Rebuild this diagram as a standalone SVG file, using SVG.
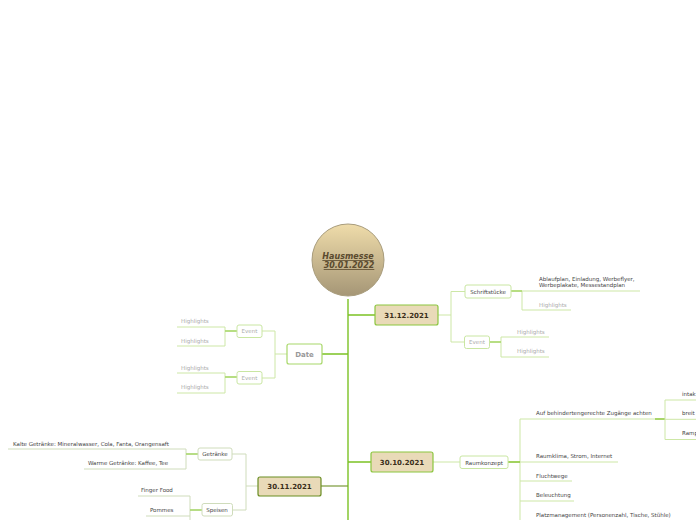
<svg xmlns="http://www.w3.org/2000/svg" width="696" height="520" viewBox="0 0 696 520">
<defs>
<linearGradient id="cg" x1="0" y1="0" x2="0" y2="1">
<stop offset="0" stop-color="#efdcaa"/>
<stop offset="1" stop-color="#a59676"/>
</linearGradient>
</defs>
<style>
text{font-family:"DejaVu Sans","Liberation Sans",sans-serif;}
.l{fill:none;stroke-width:1;}
.g1{stroke:#cde7a6;}
.g2{stroke:#cfdcbb;}
.sp{stroke:#7cc225;stroke-width:1.4;fill:none;}
.main{fill:#e9dab8;stroke-width:1.2;}
.sub{fill:#fff;stroke:#c9e6a2;stroke-width:1;}
.t5{font-size:5.5px;fill:#444;}
.hl{font-size:5.5px;fill:#aaa;}
.mt{font-size:7px;font-weight:bold;fill:#3a2e1a;text-anchor:middle;}
</style>
<g id="connectors">
<path class="sp" d="M348 299V520M348 315H375M348 354H322M348 462H371"/>
<path d="M348 486H321" stroke="#7a9a3a" stroke-width="1.2" fill="none"/>
<path class="l g1" d="M438 315H451M451 291.5V342M451 291.5H465M451 342H464"/>
<path class="l g1" d="M511 291H640M522 291V310H571M489 342H501M501 337V357M501 337H549M501 357H549"/>
<path d="M511 291H522M489 342H501" stroke="#a8d86a" stroke-width="1.6" fill="none"/>
<path class="l g1" d="M287 354H275M275 331V378M275 331H262M275 378H262"/>
<path class="l g1" d="M177 327H225V346H177M225 331H237M177 373H225V393H177M225 377H237"/>
<path d="M225 331H237M225 377H237" stroke="#a8d86a" stroke-width="1.6" fill="none"/>
<path class="l g1" d="M433 462H460"/>
<path class="l g1" d="M508 462H520M520 419V520M520 419H655M520 462H618M520 481H572M520 501H574"/>
<path d="M508 462H520M655 419H665" stroke="#8cc83a" stroke-width="1.4" fill="none"/>
<path class="l g1" d="M665 400V439.5M665 400H696M665 419.3H696M665 439.5H696"/>
<path class="l g2" d="M258 486H246M246 454V510M246 454H232M246 510H232"/>
<path class="l g2" d="M8 449H186V469H84M186 454H198M138 496H190V520M146 516H190M190 510H202"/>
<path d="M186 454H198M190 510H202" stroke="#a8d86a" stroke-width="1.6" fill="none"/>
</g>
<g id="center">
<circle cx="348" cy="260" r="36" fill="url(#cg)" stroke="#a89c7c" stroke-width="1"/>
<text x="348" y="259" font-size="8" font-weight="bold" font-style="italic" text-decoration="underline" fill="#5a4a2e" text-anchor="middle">Hausmesse </text>
<text x="349" y="268" font-size="8" font-weight="bold" font-style="italic" text-decoration="underline" fill="#5a4a2e" text-anchor="middle">30.01.2022</text>
</g>
<g id="n31122021">
<rect class="main" x="375" y="305" width="63" height="20" rx="2" stroke="#8cc63f"/>
<text class="mt" x="406.5" y="317.5">31.12.2021</text>
</g>
<g id="nSchrift">
<rect class="sub" x="465" y="285" width="46" height="13" rx="2"/>
<text class="t5" x="488" y="293.5" text-anchor="middle">Schriftstücke</text>
</g>
<g id="nAblauf">
<text class="t5" x="539" y="281">Ablaufplan, Einladung, Werbeflyer,</text>
<text class="t5" x="539" y="287">Werbeplakate, Messestandplan</text>
</g>
<g id="nHl1"><text class="hl" x="539" y="307">Highlights</text></g>
<g id="nEvent31">
<rect class="sub" x="464.5" y="336" width="25" height="12.5" rx="2"/>
<text class="hl" x="477" y="344" text-anchor="middle">Event</text>
</g>
<g id="nHl2"><text class="hl" x="517" y="334">Highlights</text></g>
<g id="nHl3"><text class="hl" x="517" y="353">Highlights</text></g>
<g id="nDate">
<rect x="287" y="344" width="35" height="20" rx="2" fill="#fff" stroke="#a8d86a" stroke-width="1.2"/>
<text x="304.5" y="357" font-size="7" font-weight="bold" fill="#999" text-anchor="middle">Date</text>
</g>
<g id="nEventD1">
<rect class="sub" x="237" y="325" width="25" height="12.5" rx="2"/>
<text class="hl" x="249.5" y="333" text-anchor="middle">Event</text>
</g>
<g id="nEventD2">
<rect class="sub" x="237" y="371.5" width="25" height="12.5" rx="2"/>
<text class="hl" x="249.5" y="379.5" text-anchor="middle">Event</text>
</g>
<g id="nHlD"><text class="hl" x="181" y="323">Highlights</text><text class="hl" x="181" y="343">Highlights</text><text class="hl" x="181" y="370">Highlights</text><text class="hl" x="181" y="389">Highlights</text></g>
<g id="n30102021">
<rect class="main" x="371" y="452" width="62" height="20" rx="2" stroke="#8cc63f"/>
<text class="mt" x="402" y="464.5">30.10.2021</text>
</g>
<g id="nRaum">
<rect class="sub" x="460" y="456" width="48" height="12.5" rx="2"/>
<text class="t5" x="484" y="464.5" text-anchor="middle">Raumkonzept</text>
</g>
<g id="nRaumKids">
<text class="t5" x="536" y="415">Auf behindertengerechte Zugänge achten</text>
<text class="t5" x="536" y="458">Raumklima, Strom, Internet</text>
<text class="t5" x="536" y="478">Fluchtwege</text>
<text class="t5" x="536" y="497">Beleuchtung</text>
<text class="t5" x="536" y="517">Platzmanagement (Personenzahl, Tische, Stühle)</text>
<text class="t5" x="682" y="396">intak</text>
<text class="t5" x="682" y="415">breit</text>
<text class="t5" x="682" y="435">Ramp</text>
</g>
<g id="n30112021">
<rect class="main" x="258" y="477" width="63" height="19" rx="2" stroke="#6b8e23"/>
<text class="mt" x="289.5" y="489">30.11.2021</text>
</g>
<g id="nGetr">
<rect x="198" y="448" width="34" height="12" rx="2" fill="#fff" stroke="#cfdcbb"/>
<text class="t5" x="215" y="456" text-anchor="middle">Getränke</text>
</g>
<g id="nSpeisen">
<rect x="202" y="503.5" width="30.5" height="12.5" rx="2" fill="#fff" stroke="#cfdcbb"/>
<text class="t5" x="217" y="511.5" text-anchor="middle">Speisen</text>
</g>
<g id="nGetrKids">
<text class="t5" x="13" y="446">Kalte Getränke: Mineralwasser, Cola, Fanta, Orangensaft</text>
<text class="t5" x="88" y="465">Warme Getränke: Kaffee, Tee</text>
<text class="t5" x="141" y="492">Finger Food</text>
<text class="t5" x="150" y="512">Pommes</text>
</g>
</svg>
